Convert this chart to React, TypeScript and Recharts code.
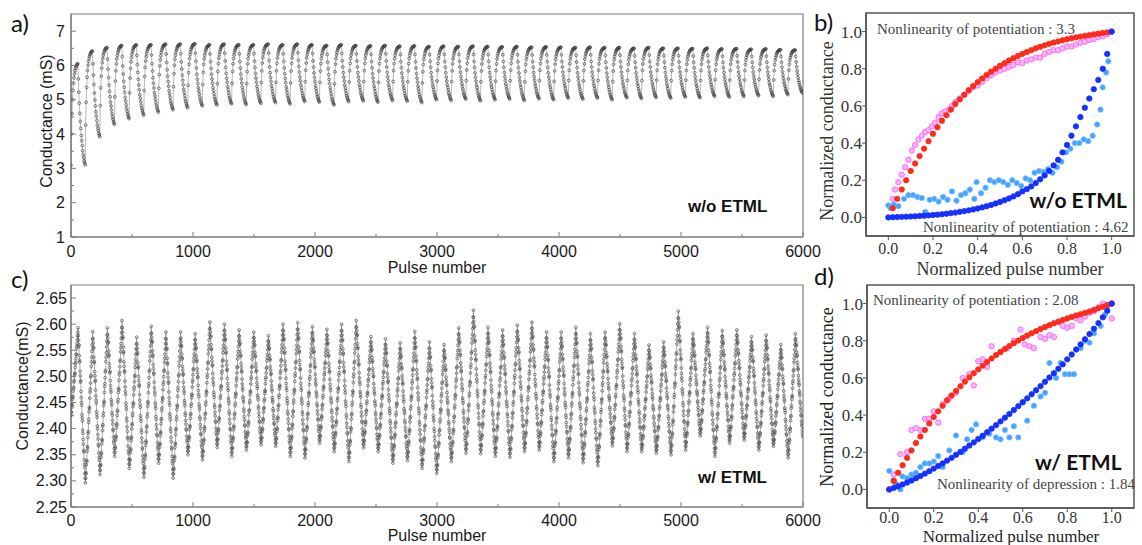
import React from "react";
import {
  LineChart,
  Line,
  ScatterChart,
  Scatter,
  XAxis,
  YAxis,
  ReferenceArea,
} from "recharts";

// ---- panels a / c : cycling conductance, 50 cycles of 120 pulses ----
const CYCLE = 120;

const A_START = 1.5;
const A_PEAK = [
  6.05, 6.42, 6.52, 6.58, 6.6, 6.6, 6.62, 6.62, 6.63, 6.6, 6.62, 6.6, 6.6, 6.62, 6.6, 6.62, 6.6,
  6.58, 6.6, 6.58, 6.57, 6.58, 6.56, 6.57, 6.55, 6.56, 6.55, 6.56, 6.55, 6.54, 6.55, 6.53, 6.54,
  6.53, 6.52, 6.53, 6.52, 6.52, 6.5, 6.52, 6.5, 6.5, 6.49, 6.5, 6.48, 6.49, 6.47, 6.48, 6.46, 6.45,
];
const A_TROUGH = [
  3.1, 3.92, 4.28, 4.45, 4.55, 4.64, 4.71, 4.77, 4.82, 4.85, 4.88, 4.86, 4.9, 4.92, 4.88, 4.95,
  4.93, 4.85, 4.95, 4.97, 4.93, 4.98, 4.96, 4.92, 5.0, 4.98, 5.02, 4.97, 5.0, 5.02, 4.98, 5.03, 5.0,
  5.05, 5.02, 5.05, 5.0, 5.06, 5.04, 5.07, 5.05, 5.08, 5.06, 5.1, 5.08, 5.1, 5.12, 5.1, 5.15, 5.2,
];
// share of the rise / fall reached at each sampled pulse of a half cycle
const A_RISE = [0.35, 0.55, 0.68, 0.77, 0.83, 0.875, 0.91, 0.935, 0.955, 0.97, 0.98, 0.988, 0.994, 0.998, 1.0];
const A_FALL = [0.15, 0.28, 0.39, 0.49, 0.57, 0.64, 0.71, 0.76, 0.81, 0.86, 0.9, 0.93, 0.96, 0.98, 1.0];

const C_START = 2.42;
const C_PEAK = [
  2.593, 2.586, 2.593, 2.607, 2.575, 2.596, 2.585, 2.585, 2.582, 2.604, 2.6, 2.589, 2.585, 2.578,
  2.6, 2.603, 2.595, 2.59, 2.6, 2.607, 2.576, 2.572, 2.564, 2.586, 2.566, 2.561, 2.593, 2.627,
  2.594, 2.589, 2.598, 2.604, 2.585, 2.585, 2.594, 2.582, 2.585, 2.601, 2.582, 2.56, 2.566, 2.625,
  2.582, 2.594, 2.588, 2.589, 2.576, 2.579, 2.561, 2.582,
];
const C_TROUGH = [
  2.296, 2.312, 2.347, 2.324, 2.307, 2.334, 2.305, 2.35, 2.34, 2.364, 2.347, 2.359, 2.369, 2.366,
  2.347, 2.344, 2.372, 2.356, 2.337, 2.363, 2.356, 2.334, 2.339, 2.324, 2.314, 2.337, 2.353, 2.352,
  2.347, 2.345, 2.356, 2.359, 2.337, 2.344, 2.335, 2.329, 2.367, 2.356, 2.356, 2.353, 2.35, 2.359,
  2.386, 2.347, 2.372, 2.378, 2.359, 2.366, 2.344, 2.385,
];
const C_RISE = [
  0.03, 0.07, 0.06, 0.12, 0.15, 0.14, 0.21, 0.24, 0.23, 0.3, 0.33, 0.34, 0.4, 0.42, 0.47, 0.5, 0.49,
  0.56, 0.6, 0.62, 0.66, 0.7, 0.71, 0.77, 0.8, 0.83, 0.87, 0.91, 0.95, 1.0,
];
const C_FALL = [
  0.05, 0.08, 0.12, 0.11, 0.18, 0.22, 0.21, 0.28, 0.31, 0.35, 0.34, 0.41, 0.45, 0.48, 0.5, 0.56,
  0.58, 0.6, 0.66, 0.68, 0.72, 0.75, 0.79, 0.8, 0.85, 0.88, 0.9, 0.94, 0.97, 1.0,
];

const PULSE_TICKS = [0, 500, 1000, 1500, 2000, 2500, 3000, 3500, 4000, 4500, 5000, 5500, 6000];
const PULSE_LABELS = [0, 1000, 2000, 3000, 4000, 5000, 6000];
const A_YTICKS = [1, 1.5, 2, 2.5, 3, 3.5, 4, 4.5, 5, 5.5, 6, 6.5, 7];
const A_YLABELS = [1, 2, 3, 4, 5, 6, 7];
const C_YTICKS = [
  2.25, 2.275, 2.3, 2.325, 2.35, 2.375, 2.4, 2.425, 2.45, 2.475, 2.5, 2.525, 2.55, 2.575, 2.6,
  2.625, 2.65,
];
const C_YLABELS = [2.25, 2.3, 2.35, 2.4, 2.45, 2.5, 2.55, 2.6, 2.65];

// ---- panels b / d : normalized potentiation / depression ----
const NORM_X = [
  0, 0.02, 0.04, 0.06, 0.08, 0.1, 0.12, 0.14, 0.16, 0.18, 0.2, 0.22, 0.24, 0.26, 0.28, 0.3, 0.32,
  0.34, 0.36, 0.38, 0.4, 0.42, 0.44, 0.46, 0.48, 0.5, 0.52, 0.54, 0.56, 0.58, 0.6, 0.62, 0.64, 0.66,
  0.68, 0.7, 0.72, 0.74, 0.76, 0.78, 0.8, 0.82, 0.84, 0.86, 0.88, 0.9, 0.92, 0.94, 0.96, 0.98, 1.0,
];
const NORM_TICKS = [0, 0.2, 0.4, 0.6, 0.8, 1.0];

const B_POT_FIT = [
  0.05, 0.1, 0.15, 0.2, 0.25, 0.29, 0.33, 0.37, 0.41, 0.45, 0.485, 0.52, 0.55, 0.58, 0.61, 0.635,
  0.66, 0.685, 0.707, 0.728, 0.748, 0.767, 0.784, 0.8, 0.816, 0.83, 0.844, 0.857, 0.869, 0.88, 0.89,
  0.9, 0.91, 0.918, 0.926, 0.934, 0.941, 0.947, 0.953, 0.959, 0.964, 0.969, 0.973, 0.977, 0.981,
  0.985, 0.989, 0.993, 0.996, 1.0,
];
const B_DEP_FIT = [
  0, 0.001, 0.002, 0.003, 0.004, 0.005, 0.006, 0.008, 0.009, 0.011, 0.013, 0.015, 0.017, 0.02,
  0.023, 0.026, 0.03, 0.034, 0.038, 0.043, 0.048, 0.054, 0.06, 0.067, 0.075, 0.083, 0.092, 0.102,
  0.113, 0.125, 0.14, 0.152, 0.167, 0.185, 0.205, 0.226, 0.25, 0.28, 0.31, 0.35, 0.39, 0.44, 0.49,
  0.54, 0.59, 0.64, 0.69, 0.74, 0.8, 0.88, 1.0,
];
const B_POT_MEAS = [
  [0.02, 0.1], [0.03, 0.15], [0.045, 0.19], [0.06, 0.23], [0.075, 0.27], [0.09, 0.31], [0.105, 0.36],
  [0.12, 0.39], [0.135, 0.42], [0.15, 0.44], [0.165, 0.46], [0.18, 0.47], [0.195, 0.49], [0.21, 0.51],
  [0.225, 0.54], [0.24, 0.56], [0.255, 0.57], [0.27, 0.58], [0.285, 0.6], [0.3, 0.62], [0.32, 0.64],
  [0.34, 0.66], [0.36, 0.68], [0.38, 0.7], [0.4, 0.71], [0.42, 0.73], [0.44, 0.75], [0.46, 0.765],
  [0.48, 0.78], [0.5, 0.79], [0.52, 0.8], [0.54, 0.81], [0.56, 0.82], [0.58, 0.835], [0.6, 0.83],
  [0.62, 0.845], [0.64, 0.85], [0.66, 0.86], [0.68, 0.86], [0.7, 0.88], [0.72, 0.89], [0.74, 0.9],
  [0.76, 0.9], [0.78, 0.91], [0.8, 0.92], [0.82, 0.92], [0.84, 0.93], [0.86, 0.94], [0.88, 0.945],
  [0.9, 0.955], [0.92, 0.96], [0.94, 0.97], [0.96, 0.975], [0.98, 0.985],
];
const B_DEP_MEAS = [
  [0.0, 0.065], [0.01, 0.05], [0.025, 0.07], [0.045, 0.06], [0.07, 0.1], [0.09, 0.12], [0.11, 0.12],
  [0.13, 0.11], [0.15, 0.105], [0.165, 0.03], [0.185, 0.095], [0.205, 0.1], [0.225, 0.085],
  [0.245, 0.11], [0.265, 0.095], [0.285, 0.14], [0.305, 0.09], [0.325, 0.12], [0.345, 0.13],
  [0.365, 0.15], [0.385, 0.1], [0.395, 0.19], [0.415, 0.13], [0.435, 0.16], [0.455, 0.2],
  [0.475, 0.19], [0.495, 0.2], [0.515, 0.19], [0.535, 0.175], [0.555, 0.2], [0.575, 0.185],
  [0.595, 0.17], [0.615, 0.21], [0.635, 0.2], [0.655, 0.24], [0.675, 0.25], [0.695, 0.245],
  [0.715, 0.26], [0.735, 0.24], [0.755, 0.27], [0.775, 0.3], [0.795, 0.35], [0.815, 0.37],
  [0.835, 0.4], [0.855, 0.4], [0.875, 0.42], [0.895, 0.41], [0.915, 0.44], [0.935, 0.5],
  [0.95, 0.58], [0.96, 0.7], [0.975, 0.78], [0.985, 0.84],
];

const D_POT_FIT = [
  0, 0.045, 0.09, 0.13, 0.17, 0.21, 0.25, 0.285, 0.32, 0.355, 0.39, 0.42, 0.45, 0.48, 0.505, 0.53,
  0.555, 0.58, 0.603, 0.625, 0.646, 0.666, 0.686, 0.705, 0.723, 0.74, 0.756, 0.772, 0.787, 0.801,
  0.815, 0.828, 0.84, 0.852, 0.863, 0.874, 0.884, 0.894, 0.903, 0.912, 0.92, 0.928, 0.936, 0.943,
  0.95, 0.957, 0.966, 0.975, 0.983, 0.992, 1.0,
];
const D_DEP_FIT = [
  0, 0.008, 0.017, 0.027, 0.037, 0.048, 0.06, 0.072, 0.085, 0.098, 0.112, 0.126, 0.14, 0.155, 0.17,
  0.186, 0.202, 0.219, 0.236, 0.253, 0.271, 0.289, 0.308, 0.327, 0.346, 0.366, 0.386, 0.406, 0.427,
  0.448, 0.469, 0.49, 0.512, 0.534, 0.556, 0.579, 0.602, 0.625, 0.649, 0.673, 0.7, 0.726, 0.753,
  0.78, 0.808, 0.836, 0.865, 0.895, 0.926, 0.962, 1.0,
];
const D_POT_MEAS = [
  [0.02, 0.08], [0.05, 0.19], [0.08, 0.2], [0.1, 0.32], [0.12, 0.33], [0.14, 0.32], [0.16, 0.38],
  [0.18, 0.38], [0.2, 0.42], [0.22, 0.36], [0.24, 0.46], [0.27, 0.49], [0.3, 0.52], [0.33, 0.6],
  [0.36, 0.62], [0.38, 0.56], [0.4, 0.69], [0.42, 0.7], [0.44, 0.66], [0.46, 0.77], [0.5, 0.74],
  [0.53, 0.76], [0.56, 0.8], [0.59, 0.86], [0.61, 0.78], [0.63, 0.77], [0.65, 0.76], [0.68, 0.82],
  [0.7, 0.81], [0.72, 0.83], [0.74, 0.82], [0.76, 0.9], [0.78, 0.88], [0.8, 0.87], [0.82, 0.88],
  [0.84, 0.92], [0.86, 0.91], [0.88, 0.93], [0.9, 0.95], [0.92, 0.96], [0.94, 0.98], [0.96, 1.0],
  [0.98, 0.99], [1.0, 0.92],
];
const D_DEP_MEAS = [
  [0.0, 0.1], [0.02, 0.05], [0.03, 0.03], [0.05, 0.0], [0.06, 0.07], [0.08, 0.06], [0.1, 0.08],
  [0.12, 0.09], [0.14, 0.12], [0.16, 0.14], [0.18, 0.14], [0.2, 0.15], [0.22, 0.18], [0.24, 0.12],
  [0.27, 0.21], [0.3, 0.29], [0.33, 0.2], [0.35, 0.27], [0.37, 0.32], [0.39, 0.35], [0.42, 0.28],
  [0.45, 0.3], [0.48, 0.28], [0.5, 0.27], [0.52, 0.32], [0.54, 0.28], [0.56, 0.34], [0.58, 0.28],
  [0.6, 0.47], [0.62, 0.37], [0.65, 0.45], [0.68, 0.5], [0.7, 0.52], [0.72, 0.68], [0.75, 0.6],
  [0.77, 0.68], [0.79, 0.62], [0.81, 0.62], [0.83, 0.62], [0.86, 0.76], [0.88, 0.8], [0.9, 0.79],
  [0.92, 0.84], [0.95, 0.88], [0.97, 0.94], [1.0, 1.0],
];

function buildCycles(start: number, peaks: number[], troughs: number[], rise: number[], fall: number[]) {
  const rows: { x: number; y: number }[] = [];
  const half = CYCLE / 2;
  const step = half / rise.length;
  let from = start;
  peaks.forEach((peak, i) => {
    const base = i * CYCLE;
    rise.forEach((f, j) => rows.push({ x: base + j * step, y: from + (peak - from) * f }));
    fall.forEach((f, j) => rows.push({ x: base + half + j * step, y: peak - (peak - troughs[i]) * f }));
    from = troughs[i];
  });
  return rows;
}

const zip = (xs: number[], ys: number[]) => ys.map((y, i) => ({ x: xs[i], y }));
const pairs = (list: number[][]) => list.map(([x, y]) => ({ x, y }));

const A_ROWS = buildCycles(A_START, A_PEAK, A_TROUGH, A_RISE, A_FALL);
const C_ROWS = buildCycles(C_START, C_PEAK, C_TROUGH, C_RISE, C_FALL);

const SANS = "'Liberation Sans', Arial, sans-serif";
const SERIF = "'Liberation Serif', 'Times New Roman', serif";
const FRAME_AC = "#7d7d7d";
const FRAME_BD = "#555";

const isIn = (list: number[], v: number) => list.some((m) => Math.abs(m - v) < 1e-6);

function xTick(labels: number[], opts: any) {
  return (p: any) => {
    const v = p.payload.value;
    const major = isIn(labels, v);
    const len = major ? opts.len : opts.minor;
    return (
      <g>
        {len > 0 && (
          <line x1={p.x} x2={p.x} y1={p.y} y2={opts.inward ? p.y - len : p.y + len} stroke={opts.stroke} strokeWidth={1} />
        )}
        {major && (
          <text x={p.x} y={p.y + opts.gap} textAnchor="middle" fontFamily={opts.font} fontSize={opts.size} fill={opts.color}>
            {opts.fmt(v)}
          </text>
        )}
      </g>
    );
  };
}

function yTick(labels: number[], opts: any) {
  return (p: any) => {
    const v = p.payload.value;
    const major = isIn(labels, v);
    const len = major ? opts.len : opts.minor;
    return (
      <g>
        {len > 0 && (
          <line x1={p.x} x2={opts.inward ? p.x + len : p.x - len} y1={p.y} y2={p.y} stroke={opts.stroke} strokeWidth={1} />
        )}
        {major && (
          <text x={p.x - opts.gap} y={p.y + opts.size * 0.35} textAnchor="end" fontFamily={opts.font} fontSize={opts.size} fill={opts.color}>
            {opts.fmt(v)}
          </text>
        )}
      </g>
    );
  };
}

const acX = { len: 5, minor: 3, inward: true, stroke: FRAME_AC, gap: 19.5, font: SANS, size: 16, color: "#1a1a1a", fmt: (v: number) => String(v) };
const acXC = { ...acX, gap: 19 };
const acYA = { len: 5, minor: 3, inward: true, stroke: FRAME_AC, gap: 6, font: SANS, size: 16, color: "#1a1a1a", fmt: (v: number) => String(v) };
const acYC = { ...acYA, gap: 4, fmt: (v: number) => v.toFixed(2) };
const bdX = { len: 4, minor: 0, inward: false, stroke: FRAME_BD, gap: 18, font: SERIF, size: 16, color: "#333", fmt: (v: number) => v.toFixed(1) };
const bdXD = { ...bdX, gap: 15 };
const bdY = { len: 4, minor: 0, inward: false, stroke: FRAME_BD, gap: 4, font: SERIF, size: 17, color: "#333", fmt: (v: number) => v.toFixed(1) };

const dot = (fill: string, stroke: string, r = 2.7) => (p: any) =>
  <circle cx={p.cx} cy={p.cy} r={r} fill={fill} stroke={stroke} strokeWidth={0.8} />;

function CyclePanel({ rows, yDomain, yTicks, yLabels, yOpts, xOpts, top, lineColor, dotColor }: any) {
  return (
    <div style={{ position: "absolute", left: 0, top }}>
      <LineChart width={830} height={top === 0 ? 275 : 273} data={rows} margin={{ top: top === 0 ? 14 : 13, right: 27, left: 0, bottom: 0 }}>
        <XAxis type="number" dataKey="x" domain={[0, 6000]} ticks={PULSE_TICKS} interval={0} tickSize={0} tickMargin={0}
          height={38} axisLine={{ stroke: FRAME_AC, strokeWidth: 1.2 }} tickLine={false} tick={xTick(PULSE_LABELS, xOpts)} allowDataOverflow />
        <YAxis type="number" domain={yDomain} ticks={yTicks} interval={0} tickSize={0} tickMargin={0} width={71}
          axisLine={{ stroke: FRAME_AC, strokeWidth: 1.2 }} tickLine={false} tick={yTick(yLabels, yOpts)} allowDataOverflow />
        <ReferenceArea x1={0} x2={6000} y1={yDomain[0]} y2={yDomain[1]} fill="none" stroke={FRAME_AC} strokeWidth={1.2} />
        <Line type="linear" dataKey="y" stroke={lineColor} strokeWidth={0.7}
          dot={{ r: 1.4, stroke: dotColor, strokeWidth: 0.65, fill: "none" }} isAnimationActive={false} />
      </LineChart>
    </div>
  );
}

function NormPanel({ top, height, yWidth, xOpts, potFit, depFit, potMeas, depMeas, potX }: any) {
  return (
    <div style={{ position: "absolute", left: 780, top }}>
      <ScatterChart width={362} height={height} margin={{ top: 13, right: 8, left: 0, bottom: 0 }}>
        <XAxis type="number" dataKey="x" domain={[-0.1, 1.1]} ticks={NORM_TICKS} interval={0} tickSize={0} tickMargin={0}
          height={height - 13 - 223} axisLine={{ stroke: FRAME_BD, strokeWidth: 1.5 }} tickLine={false} tick={xTick(NORM_TICKS, xOpts)} />
        <YAxis type="number" dataKey="y" domain={[-0.1, 1.1]} ticks={NORM_TICKS} interval={0} tickSize={0} tickMargin={0}
          width={yWidth} axisLine={{ stroke: FRAME_BD, strokeWidth: 1.5 }} tickLine={false} tick={yTick(NORM_TICKS, bdY)} />
        <ReferenceArea x1={-0.1} x2={1.1} y1={-0.1} y2={1.1} fill="none" stroke={FRAME_BD} strokeWidth={1.5} />
        <Scatter data={pairs(potMeas)} shape={dot("#ffb0ff", "#f060f0")} isAnimationActive={false} />
        <Scatter data={pairs(depMeas)} shape={dot("#45a3ff", "#7cc0ff")} isAnimationActive={false} />
        <Scatter data={zip(potX, potFit)} shape={dot("#ff2a1a", "#ff2a1a")} isAnimationActive={false} />
        <Scatter data={zip(NORM_X, depFit)} shape={dot("#1530ff", "#1530ff")} isAnimationActive={false} />
      </ScatterChart>
    </div>
  );
}

export default function App() {
  const t = (x: number, y: number, s: string, style: any) => (
    <text x={x} y={y} {...style}>{s}</text>
  );
  const note = { fontFamily: SERIF, fontSize: 15, fill: "#444" };
  const letter = { fontFamily: "Lato, 'Open Sans', sans-serif", fontSize: 24, fill: "#111" };
  return (
    <div style={{ position: "absolute", left: 0, top: 0, width: 1142, height: 545, background: "#fff", overflow: "hidden" }}>
      <CyclePanel rows={A_ROWS} yDomain={[1, 7.5]} yTicks={A_YTICKS} yLabels={A_YLABELS} yOpts={acYA} xOpts={acX}
        top={0} lineColor="#9a9a9a" dotColor="#3c3c3c" />
      <CyclePanel rows={C_ROWS} yDomain={[2.25, 2.675]} yTicks={C_YTICKS} yLabels={C_YLABELS} yOpts={acYC} xOpts={acXC}
        top={272} lineColor="#8a8a8a" dotColor="#4a4a4a" />
      <NormPanel top={0} height={280} yWidth={86} xOpts={bdX} potFit={B_POT_FIT} depFit={B_DEP_FIT}
        potMeas={B_POT_MEAS} depMeas={B_DEP_MEAS} potX={NORM_X.slice(1)} />
      <NormPanel top={272} height={273} yWidth={87} xOpts={bdXD} potFit={D_POT_FIT} depFit={D_DEP_FIT}
        potMeas={D_POT_MEAS} depMeas={D_DEP_MEAS} potX={NORM_X} />
      <svg width={1142} height={545} style={{ position: "absolute", left: 0, top: 0, pointerEvents: "none" }}>
        {t(11, 32, "a)", letter)}
        {t(11, 288, "c)", letter)}
        {t(814, 31, "b)", letter)}
        {t(814, 285, "d)", letter)}
        <text x={46} y={121} transform="rotate(-90 46 121)" textAnchor="middle" dominantBaseline="central" fontFamily={SANS} fontSize={16} fill="#1a1a1a">Conductance (mS)</text>
        <text x={22} y={386} transform="rotate(-90 22 386)" textAnchor="middle" dominantBaseline="central" fontFamily={SANS} fontSize={16} fill="#1a1a1a">Conductance(mS)</text>
        <text x={437} y={273} textAnchor="middle" fontFamily={SANS} fontSize={16} fill="#1a1a1a">Pulse number</text>
        <text x={437} y={541} textAnchor="middle" fontFamily={SANS} fontSize={16} fill="#1a1a1a">Pulse number</text>
        <text x={688} y={212} fontFamily={SANS} fontWeight="bold" fontSize={17} fill="#111">w/o ETML</text>
        <text x={698} y={483} fontFamily={SANS} fontWeight="bold" fontSize={17} fill="#111">w/ ETML</text>
        <text x={827} y={131} transform="rotate(-90 827 131)" textAnchor="middle" dominantBaseline="central" fontFamily={SERIF} fontSize={18} fill="#333">Normalized conductance</text>
        <text x={827} y={397} transform="rotate(-90 827 397)" textAnchor="middle" dominantBaseline="central" fontFamily={SERIF} fontSize={18} fill="#222">Normalized conductance</text>
        <text x={1010} y={275} textAnchor="middle" fontFamily={SERIF} fontSize={18} fill="#333">Normalized pulse number</text>
        <text x={1011} y={542} textAnchor="middle" fontFamily={SERIF} fontSize={17} fill="#222">Normalized pulse number</text>
        <text x={1127} y={208} textAnchor="end" fontFamily="Lato, sans-serif" fontWeight="bold" fontSize={21} fill="#111">w/o ETML</text>
        <text x={1035} y={470} fontFamily="Lato, sans-serif" fontWeight="bold" fontSize={21} fill="#111">w/ ETML</text>
        {t(877, 34, "Nonlinearity of potentiation : 3.3", note)}
        {t(923, 232, "Nonlinearity of potentiation : 4.62", note)}
        {t(873, 305, "Nonlinearity of potentiation : 2.08", note)}
        {t(937, 489, "Nonlinearity of depression : 1.84", note)}
      </svg>
    </div>
  );
}
